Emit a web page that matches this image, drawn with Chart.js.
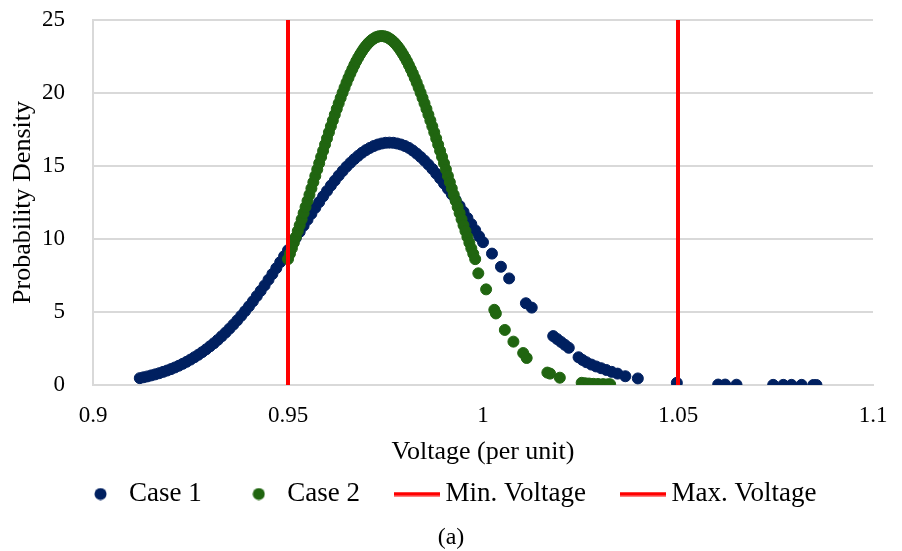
<!DOCTYPE html>
<html>
<head>
<meta charset="utf-8">
<script src="https://cdn.jsdelivr.net/npm/chart.js@4.4.1/dist/chart.umd.min.js"></script>
<style>
  html, body { margin: 0; padding: 0; background: #fff; }
</style>
</head>
<body>
<canvas id="chart" width="902" height="551"></canvas>
<script>
// Case 1 (dense part, then the scattered right tail)
const case1X = [
  0.912, 0.913, 0.914, 0.915, 0.916, 0.917, 0.918, 0.919, 0.920, 0.921,
  0.922, 0.923, 0.924, 0.925, 0.926, 0.927, 0.928, 0.929, 0.930, 0.931,
  0.932, 0.933, 0.934, 0.935, 0.936, 0.937, 0.938, 0.939, 0.940, 0.941,
  0.942, 0.943, 0.944, 0.945, 0.946, 0.947, 0.948, 0.949, 0.950, 0.951,
  0.952, 0.953, 0.954, 0.955, 0.956, 0.957, 0.958, 0.959, 0.960, 0.961,
  0.962, 0.963, 0.964, 0.965, 0.966, 0.967, 0.968, 0.969, 0.970, 0.971,
  0.972, 0.973, 0.974, 0.975, 0.976, 0.977, 0.978, 0.979, 0.980, 0.981,
  0.982, 0.983, 0.984, 0.985, 0.986, 0.987, 0.988, 0.989, 0.990, 0.991,
  0.992, 0.993, 0.994, 0.995, 0.996, 0.997, 0.998, 0.999, 1.000,
  1.0023, 1.0046, 1.0067, 1.0110, 1.0125, 1.0180, 1.0190, 1.0200, 1.0210, 1.0220,
  1.0245, 1.0255, 1.0265, 1.0278, 1.0290, 1.0303, 1.0316, 1.0330, 1.0345, 1.0365,
  1.0397, 1.0497, 1.0603, 1.0621, 1.0650, 1.0744, 1.0770, 1.0791, 1.0817, 1.0847, 1.0855
];
const case1Y = [
  0.47, 0.53, 0.59, 0.66, 0.73, 0.81, 0.90, 0.99, 1.09, 1.20,
  1.32, 1.45, 1.59, 1.74, 1.90, 2.07, 2.25, 2.44, 2.65, 2.86,
  3.09, 3.34, 3.59, 3.86, 4.14, 4.43, 4.74, 5.06, 5.39, 5.73,
  6.09, 6.45, 6.82, 7.21, 7.60, 8.00, 8.41, 8.82, 9.23, 9.65,
  10.07, 10.49, 10.91, 11.32, 11.73, 12.14, 12.53, 12.92, 13.29, 13.66,
  14.00, 14.34, 14.65, 14.95, 15.22, 15.47, 15.70, 15.91, 16.09, 16.24,
  16.37, 16.47, 16.54, 16.59, 16.60, 16.59, 16.54, 16.47, 16.37, 16.24,
  16.06, 15.85, 15.62, 15.37, 15.10, 14.80, 14.48, 14.15, 13.80, 13.44,
  13.06, 12.67, 12.27, 11.86, 11.44, 11.02, 10.60, 10.18, 9.78,
  9.0, 8.1, 7.3, 5.6, 5.3, 3.35, 3.15, 2.95, 2.75, 2.55,
  1.9, 1.72, 1.56, 1.4, 1.27, 1.15, 1.03, 0.9, 0.78, 0.6,
  0.45, 0.15, 0.03, 0.03, 0.02, 0.01, 0.01, 0.01, 0.01, 0.0, 0.0
];

// Case 2
const case2X = [
  0.9500, 0.9505, 0.9510, 0.9515, 0.9520, 0.9525, 0.9530, 0.9535, 0.9540, 0.9545,
  0.9550, 0.9555, 0.9560, 0.9565, 0.9570, 0.9575, 0.9580, 0.9585, 0.9590, 0.9595,
  0.9600, 0.9605, 0.9610, 0.9615, 0.9620, 0.9625, 0.9630, 0.9635, 0.9640, 0.9645,
  0.9650, 0.9655, 0.9660, 0.9665, 0.9670, 0.9675, 0.9680, 0.9685, 0.9690, 0.9695,
  0.9700, 0.9705, 0.9710, 0.9715, 0.9720, 0.9725, 0.9730, 0.9735, 0.9740, 0.9745,
  0.9750, 0.9755, 0.9760, 0.9765, 0.9770, 0.9775, 0.9780, 0.9785, 0.9790, 0.9795,
  0.9800, 0.9805, 0.9810, 0.9815, 0.9820, 0.9825, 0.9830, 0.9835, 0.9840, 0.9845,
  0.9850, 0.9855, 0.9860, 0.9865, 0.9870, 0.9875, 0.9880, 0.9885, 0.9890, 0.9895,
  0.9900, 0.9905, 0.9910, 0.9915, 0.9920, 0.9925, 0.9930, 0.9935, 0.9940, 0.9945,
  0.9950, 0.9955, 0.9960, 0.9965, 0.9970, 0.9975, 0.9980,
  0.9988, 1.0008, 1.0029, 1.0033, 1.0056, 1.0078, 1.0103, 1.0112, 1.0165, 1.0172,
  1.0197, 1.0253, 1.0262, 1.0272, 1.0283, 1.0295, 1.0308, 1.0320, 1.0326
];
const case2Y = [
  8.62, 8.99, 9.36, 9.75, 10.14, 10.54, 10.94, 11.35, 11.77, 12.19,
  12.61, 13.03, 13.46, 13.89, 14.32, 14.76, 15.19, 15.62, 16.04, 16.47,
  16.89, 17.31, 17.72, 18.12, 18.52, 18.91, 19.29, 19.66, 20.02, 20.37,
  20.71, 21.03, 21.34, 21.63, 21.91, 22.18, 22.42, 22.65, 22.86, 23.06,
  23.23, 23.39, 23.52, 23.64, 23.73, 23.81, 23.86, 23.89, 23.90, 23.89,
  23.86, 23.81, 23.73, 23.64, 23.52, 23.39, 23.23, 23.06, 22.86, 22.65,
  22.42, 22.18, 21.91, 21.63, 21.34, 21.03, 20.71, 20.37, 20.02, 19.66,
  19.29, 18.91, 18.52, 18.12, 17.72, 17.31, 16.89, 16.47, 16.04, 15.62,
  15.19, 14.76, 14.32, 13.89, 13.46, 13.03, 12.61, 12.19, 11.77, 11.35,
  10.94, 10.54, 10.14, 9.75, 9.36, 8.99, 8.62,
  7.65, 6.55, 5.15, 4.9, 3.77, 2.97, 2.19, 1.85, 0.85, 0.78,
  0.5, 0.15, 0.12, 0.1, 0.08, 0.07, 0.06, 0.05, 0.05
];

const minVoltage = 0.95;
const maxVoltage = 1.05;
const limitY = [0, 25];

const xTicks = [0.9, 0.95, 1, 1.05, 1.1];
const xTickLabels = ['0.9', '0.95', '1', '1.05', '1.1'];

const seriesNames = ['Case 1', 'Case 2', 'Min. Voltage', 'Max. Voltage'];

const NAVY = '#002060';
const GREEN = '#206510';
const RED = '#ff0000';
const GRID = '#d9d9d9';
const FONT = "'Liberation Serif', 'Times New Roman', serif";

function toPoints(xs, ys) {
    return xs.map((x, i) => ({ x: x, y: ys[i] }));
}

// small canvases used as legend symbols
function dotIcon(color) {
    const c = document.createElement('canvas');
    c.width = 13; c.height = 13;
    const g = c.getContext('2d');
    g.fillStyle = color;
    g.beginPath();
    g.arc(6.5, 6.5, 6, 0, Math.PI * 2);
    g.fill();
    return c;
}

function lineIcon(color) {
    const c = document.createElement('canvas');
    c.width = 46; c.height = 5;
    const g = c.getContext('2d');
    g.fillStyle = color;
    g.fillRect(0, 0.5, 46, 4);
    return c;
}

const legendIcons = [dotIcon(NAVY), dotIcon(GREEN), lineIcon(RED), lineIcon(RED)];

const ctx = document.getElementById('chart').getContext('2d');
new Chart(ctx, {
    type: 'scatter',
    data: {
        datasets: [
            {
                label: seriesNames[0],
                data: toPoints(case1X, case1Y),
                backgroundColor: NAVY,
                borderColor: NAVY,
                pointRadius: 5.5,
                pointBorderWidth: 1,
                order: 3
            },
            {
                label: seriesNames[1],
                data: toPoints(case2X, case2Y),
                backgroundColor: GREEN,
                borderColor: GREEN,
                pointRadius: 5.5,
                pointBorderWidth: 1,
                order: 2
            },
            {
                label: seriesNames[2],
                data: limitY.map(y => ({ x: minVoltage, y: y })),
                showLine: true,
                borderColor: RED,
                backgroundColor: RED,
                borderWidth: 4,
                pointRadius: 0,
                order: 1
            },
            {
                label: seriesNames[3],
                data: limitY.map(y => ({ x: maxVoltage, y: y })),
                showLine: true,
                borderColor: RED,
                backgroundColor: RED,
                borderWidth: 4,
                pointRadius: 0,
                order: 0
            }
        ]
    },
    options: {
        responsive: false,
        animation: false,
        events: [],
        layout: { padding: { top: 20, left: 29, right: 29, bottom: 1 } },
        scales: {
            x: {
                type: 'linear',
                min: 0.9,
                max: 1.1,
                afterBuildTicks: scale => { scale.ticks = xTicks.map(v => ({ value: v })); },
                afterFit: scale => { scale.height = 53.5; },
                grid: { display: false, drawTicks: true, tickLength: 17, tickColor: 'rgba(0,0,0,0)' },
                border: { display: true, color: GRID, width: 2 },
                ticks: {
                    padding: 0,
                    maxRotation: 0,
                    autoSkip: false,
                    color: '#000',
                    font: { family: FONT, size: 23 },
                    callback: (value, index) => xTickLabels[index]
                },
                title: {
                    display: true,
                    text: 'Voltage (per unit)',
                    color: '#000',
                    font: { family: FONT, size: 26 },
                    padding: { top: 0, bottom: -29.1 }
                }
            },
            y: {
                min: 0,
                max: 25,
                afterFit: scale => { scale.width = 64; },
                grid: { color: GRID, lineWidth: 2, drawTicks: true, tickLength: 28, tickColor: 'rgba(0,0,0,0)' },
                border: { display: true, color: GRID, width: 2 },
                ticks: {
                    stepSize: 5,
                    padding: 0,
                    color: '#000',
                    font: { family: FONT, size: 23 }
                },
                title: {
                    display: true,
                    text: 'Probability Density',
                    color: '#000',
                    font: { family: FONT, size: 26 },
                    padding: { top: -21.6, bottom: 0 }
                }
            }
        },
        plugins: {
            tooltip: { enabled: false },
            legend: {
                position: 'bottom',
                labels: {
                    usePointStyle: true,
                    pointStyleWidth: 30,
                    padding: 42,
                    color: '#000',
                    font: { family: FONT, size: 27 },
                    generateLabels: chart => {
                        const items = Chart.defaults.plugins.legend.labels.generateLabels(chart);
                        items.forEach(item => { item.pointStyle = legendIcons[item.datasetIndex]; });
                        return items;
                    },
                    sort: (a, b) => a.datasetIndex - b.datasetIndex
                }
            },
            title: {
                display: true,
                position: 'bottom',
                text: '(a)',
                color: '#000',
                font: { family: FONT, size: 24, weight: 'normal', lineHeight: 1 },
                padding: { top: 8.5, bottom: 0 }
            }
        }
    }
});
</script>
</body>
</html>
